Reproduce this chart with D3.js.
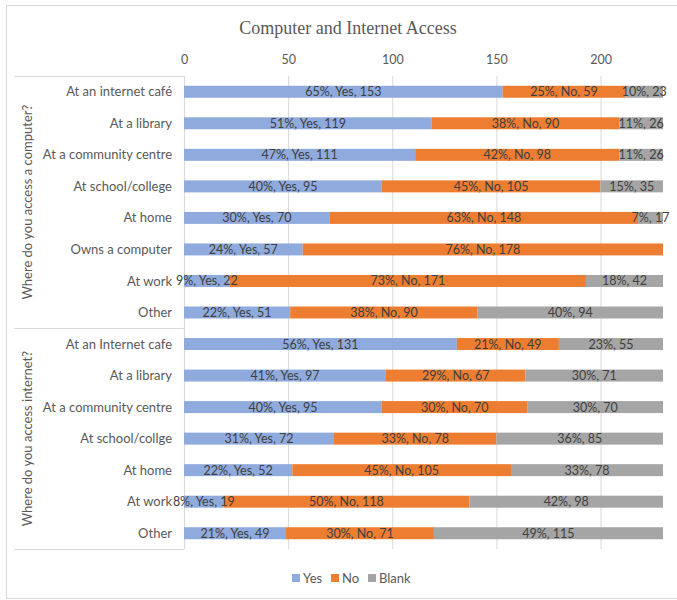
<!DOCTYPE html>
<html>
<head>
<meta charset="utf-8">
<script src="https://cdn.jsdelivr.net/npm/d3@7"></script>
<style>
  html, body { margin: 0; padding: 0; background: #fff; }
  svg { display: block; }
</style>
</head>
<body>
<svg id="chart" width="677" height="600"></svg>
<script>
// Survey: where respondents access a computer / the internet
const groupNames = ["Where do you access a computer?", "Where do you access internet?"];

const computerPlaces = ["At an internet café", "At a library", "At a community centre", "At school/college",
  "At home", "Owns a computer", "At work", "Other"];
const computerYes = [153, 119, 111, 95, 70, 57, 22, 51];
const computerNo = [59, 90, 98, 105, 148, 178, 171, 90];
const computerBlank = [23, 26, 26, 35, 17, 0, 42, 94];
const computerYesPct = [65, 51, 47, 40, 30, 24, 9, 22];
const computerNoPct = [25, 38, 42, 45, 63, 76, 73, 38];
const computerBlankPct = [10, 11, 11, 15, 7, 0, 18, 40];

const internetPlaces = ["At an Internet cafe", "At a library", "At a community centre", "At school/collge",
  "At home", "At work", "Other"];
const internetYes = [131, 97, 95, 72, 52, 19, 49];
const internetNo = [49, 67, 70, 78, 105, 118, 71];
const internetBlank = [55, 71, 70, 85, 78, 98, 115];
const internetYesPct = [56, 41, 40, 31, 22, 8, 21];
const internetNoPct = [21, 29, 30, 33, 45, 50, 30];
const internetBlankPct = [23, 30, 30, 36, 33, 42, 49];

const seriesNames = ["Yes", "No", "Blank"];
const seriesColors = ["#8FAADC", "#ED7D31", "#A5A5A5"];
const tickValues = [0, 50, 100, 150, 200];

// Build one row per bar
const rows = [];
computerPlaces.forEach((p, i) => rows.push({
  key: "c" + i, group: 0, label: p,
  values: [computerYes[i], computerNo[i], computerBlank[i]],
  pcts: [computerYesPct[i], computerNoPct[i], computerBlankPct[i]]
}));
internetPlaces.forEach((p, i) => rows.push({
  key: "i" + i, group: 1, label: p,
  values: [internetYes[i], internetNo[i], internetBlank[i]],
  pcts: [internetYesPct[i], internetNoPct[i], internetBlankPct[i]]
}));

const svg = d3.select("#chart");
const plot = { left: 184, right: 663, top: 76, bottom: 549 };
const labelFont = "Lato, 'Open Sans', sans-serif";

// Outer frame
svg.append("rect").attr("x", 6.5).attr("y", 5.5).attr("width", 680).attr("height", 593)
  .attr("fill", "#fff").attr("stroke", "#d9d9d9").attr("stroke-width", 1);

const x = d3.scaleLinear().domain([0, 230]).range([plot.left, plot.right]);
const y = d3.scaleBand().domain(rows.map(r => r.key)).range([plot.top, plot.bottom]).paddingInner(0.62).paddingOuter(0.31);

// Title
svg.append("text").attr("x", 348).attr("y", 34).attr("text-anchor", "middle")
  .attr("font-family", "'Liberation Serif', 'Times New Roman', serif").attr("font-size", 18)
  .attr("fill", "#595959").text("Computer and Internet Access");

// Top value axis with gridlines
const xAxis = d3.axisTop(x).tickValues(tickValues).tickSize(0).tickPadding(0);
const gx = svg.append("g").attr("transform", `translate(0,${plot.top - 12})`).call(xAxis);
gx.select(".domain").remove();
gx.selectAll("text").attr("font-family", labelFont).attr("font-size", 12.5).attr("fill", "#595959");

svg.append("g").selectAll("line").data(tickValues.slice(1)).join("line")
  .attr("x1", d => x(d) + 0.5).attr("x2", d => x(d) + 0.5)
  .attr("y1", plot.top).attr("y2", plot.bottom)
  .attr("stroke", "#d9d9d9").attr("stroke-width", 1);

// Category table lines (multi-level axis)
const groupBounds = [
  [plot.top, y("c7") + y.bandwidth() / 2 + y.step() / 2],
  [y("i0") + y.bandwidth() / 2 - y.step() / 2, plot.bottom]
];
const hLines = [plot.top, groupBounds[0][1], plot.bottom];
svg.append("g").selectAll("line").data(hLines).join("line")
  .attr("x1", 14).attr("x2", plot.left).attr("y1", d => Math.round(d) + 0.5).attr("y2", d => Math.round(d) + 0.5)
  .attr("stroke", "#d9d9d9").attr("stroke-width", 1.2);
svg.append("line").attr("x1", plot.left + 0.5).attr("x2", plot.left + 0.5)
  .attr("y1", plot.top).attr("y2", plot.bottom).attr("stroke", "#d9d9d9").attr("stroke-width", 1.2);

// Category labels
svg.append("g").selectAll("text").data(rows).join("text")
  .attr("x", plot.left - 12).attr("y", d => y(d.key) + y.bandwidth() / 2)
  .attr("dy", "0.35em").attr("text-anchor", "end")
  .attr("font-family", labelFont).attr("font-size", 13).attr("fill", "#595959")
  .text(d => d.label);

// Group labels (rotated)
svg.append("g").selectAll("text").data(groupNames).join("text")
  .attr("transform", (d, i) => `translate(27,${(groupBounds[i][0] + groupBounds[i][1]) / 2}) rotate(-90)`)
  .attr("text-anchor", "middle").attr("dy", "0.35em")
  .attr("font-family", labelFont).attr("font-size", 13).attr("fill", "#595959")
  .text(d => d);

// Stacked segments
const segs = [];
rows.forEach(r => {
  let acc = 0;
  r.values.forEach((v, s) => {
    segs.push({ row: r, s, x0: acc, x1: acc + v, v, pct: r.pcts[s] });
    acc += v;
  });
});

svg.append("clipPath").attr("id", "plotClip").append("rect")
  .attr("x", plot.left).attr("y", plot.top).attr("width", plot.right - plot.left).attr("height", plot.bottom - plot.top);

svg.append("g").attr("clip-path", "url(#plotClip)").selectAll("rect").data(segs.filter(d => d.v > 0)).join("rect")
  .attr("x", d => x(d.x0)).attr("width", d => x(d.x1) - x(d.x0))
  .attr("y", d => y(d.row.key)).attr("height", y.bandwidth())
  .attr("fill", d => seriesColors[d.s]);

// Data labels: "pct%, Series, value" (Blank omits the series name)
svg.append("g").selectAll("text").data(segs.filter(d => d.v > 0)).join("text")
  .attr("x", d => (x(d.x0) + Math.min(x(d.x1), plot.right)) / 2)
  .attr("y", d => y(d.row.key) + y.bandwidth() / 2).attr("dy", "0.36em")
  .attr("text-anchor", "middle")
  .attr("font-family", labelFont).attr("font-size", 12.5).attr("fill", "#404040")
  .text(d => d.s === 2 ? `${d.pct}%, ${d.v}` : `${d.pct}%, ${seriesNames[d.s]}, ${d.v}`);

// Legend
const legendX = [292, 331, 368];
const lg = svg.append("g").selectAll("g").data(seriesNames).join("g")
  .attr("transform", (d, i) => `translate(${legendX[i]},578)`);
lg.append("rect").attr("x", 0).attr("y", -4).attr("width", 8).attr("height", 8)
  .attr("fill", (d, i) => seriesColors[i]);
lg.append("text").attr("x", 11).attr("dy", "0.35em")
  .attr("font-family", labelFont).attr("font-size", 13).attr("fill", "#595959").text(d => d);
</script>
</body>
</html>
